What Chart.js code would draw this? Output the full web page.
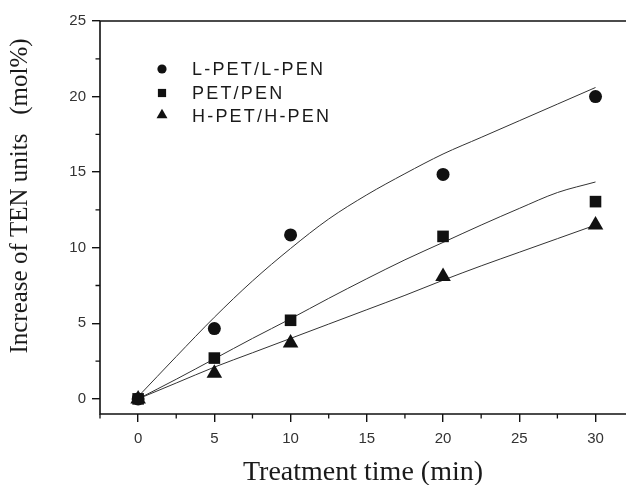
<!DOCTYPE html>
<html>
<head>
<meta charset="utf-8">
<script src="https://cdn.jsdelivr.net/npm/chart.js@4.4.0/dist/chart.umd.min.js"></script>
<style>
html, body { margin: 0; padding: 0; background: #fff; }
</style>
</head>
<body>
<canvas id="myChart" width="626" height="485"></canvas>
<script>
// measured points
var times = [0, 5, 10, 20, 30];
var lPet = [0, 4.65, 10.85, 14.85, 20.0];
var pet = [0, 2.7, 5.2, 10.75, 13.05];
var hPet = [0, 1.7, 3.7, 8.1, 11.5];

// fitted curves
var fitTimes = [0, 2.5, 5, 7.5, 10, 12.5, 15, 17.5, 20, 22.5, 25, 27.5, 30];
var lPetFit = [0.15, 2.8, 5.4, 7.8, 9.95, 11.9, 13.5, 14.9, 16.2, 17.3, 18.4, 19.5, 20.6];
var petFit = [0, 1.3, 2.65, 4.0, 5.3, 6.65, 7.95, 9.2, 10.35, 11.5, 12.6, 13.65, 14.35];
var hPetFit = [0, 1.05, 2.1, 3.05, 4.0, 4.95, 5.9, 6.85, 7.85, 8.8, 9.7, 10.6, 11.5];

var seriesNames = ['L-PET/L-PEN', 'PET/PEN', 'H-PET/H-PEN'];
var xTicks = [0, 5, 10, 15, 20, 25, 30];
var yTicks = [0, 5, 10, 15, 20, 25];

function pairs(xs, ys) {
    return xs.map(function (x, i) { return { x: x, y: ys[i] }; });
}

function fitLine(ys) {
    return {
        data: pairs(fitTimes, ys),
        showLine: true,
        borderColor: '#333',
        borderWidth: 1,
        pointRadius: 0,
        cubicInterpolationMode: 'monotone',
        fill: false,
        order: 2
    };
}

function markers(label, ys, style, r) {
    return {
        label: label,
        data: pairs(times, ys),
        showLine: false,
        pointStyle: style,
        pointRadius: r,
        pointBackgroundColor: '#111',
        pointBorderWidth: 0,
        order: 1
    };
}

// style, radius on the plot, radius in the key
var markerStyles = [['circle', 6.5, 4.6], ['rect', 8.2, 5.8], ['triangle', 9, 6.3]];

// frame, minor ticks, axis titles and the inset key
var decorations = {
    id: 'decorations',
    afterDraw: function (chart) {
        var ctx = chart.ctx;
        var a = chart.chartArea;
        var xs = chart.scales.x, ys = chart.scales.y;
        ctx.save();
        ctx.strokeStyle = '#111';
        ctx.lineWidth = 1.6;
        ctx.beginPath();
        ctx.moveTo(a.right + 2, a.top);
        ctx.lineTo(a.left, a.top);
        ctx.lineTo(a.left, a.bottom);
        ctx.lineTo(a.right + 2, a.bottom);
        ctx.stroke();

        ctx.lineWidth = 1.3;
        ctx.beginPath();
        for (var v = -2.5; v < xs.max; v += 5) {
            var px = xs.getPixelForValue(v);
            ctx.moveTo(px, a.bottom);
            ctx.lineTo(px, a.bottom + 4.5);
        }
        for (var w = 2.5; w < ys.max; w += 5) {
            var py = ys.getPixelForValue(w);
            ctx.moveTo(a.left, py);
            ctx.lineTo(a.left - 4.5, py);
        }
        ctx.stroke();

        ctx.fillStyle = '#1a1a1a';
        ctx.textAlign = 'center';
        ctx.textBaseline = 'middle';
        ctx.font = '28px "Liberation Serif"';
        ctx.fillText('Treatment time (min)', (a.left + a.right) / 2, 473);
        ctx.save();
        ctx.translate(20, 196);
        ctx.rotate(-Math.PI / 2);
        ctx.font = '25px "Liberation Serif"';
        ctx.fillText('Increase of TEN units   (mol%)', 0, 0);
        ctx.restore();

        var rows = [69, 93, 116];
        ctx.textAlign = 'left';
        ctx.font = '18px "Liberation Sans"';
        if ('letterSpacing' in ctx) ctx.letterSpacing = '2.2px';
        seriesNames.forEach(function (name, i) {
            ctx.fillStyle = '#111';
            Chart.helpers.drawPoint(ctx, {
                pointStyle: markerStyles[i][0],
                radius: markerStyles[i][2],
                rotation: 0,
                borderWidth: 0
            }, 162, rows[i] - (i === 2 ? 1 : 0));
            ctx.fillStyle = '#1a1a1a';
            ctx.fillText(name, 192, rows[i] + 1);
        });
        ctx.restore();
    }
};

var ctx = document.getElementById('myChart').getContext('2d');
var myChart = new Chart(ctx, {
    type: 'scatter',
    data: {
        datasets: [
            fitLine(lPetFit),
            fitLine(petFit),
            fitLine(hPetFit),
            markers(seriesNames[0], lPet, markerStyles[0][0], markerStyles[0][1]),
            markers(seriesNames[1], pet, markerStyles[1][0], markerStyles[1][1]),
            markers(seriesNames[2], hPet, markerStyles[2][0], markerStyles[2][1])
        ]
    },
    options: {
        responsive: false,
        animation: false,
        layout: {
            autoPadding: false,
            padding: { top: 21, right: 0, bottom: 0, left: 0 }
        },
        plugins: {
            legend: { display: false },
            tooltip: { enabled: false }
        },
        scales: {
            x: {
                type: 'linear',
                min: -2.5,
                max: 32,
                afterBuildTicks: function (scale) {
                    scale.ticks = xTicks.map(function (v) { return { value: v }; });
                },
                afterFit: function (scale) {
                    scale.height = 71;
                    scale.paddingLeft = 0;
                    scale.paddingRight = 0;
                },
                border: { display: false },
                grid: {
                    drawOnChartArea: false,
                    drawTicks: true,
                    tickLength: 8,
                    color: '#111',
                    lineWidth: 1.4
                },
                ticks: {
                    padding: 8,
                    color: '#333',
                    font: { family: 'Liberation Sans', size: 15 }
                }
            },
            y: {
                type: 'linear',
                min: -1,
                max: 25,
                afterBuildTicks: function (scale) {
                    scale.ticks = yTicks.map(function (v) { return { value: v }; });
                },
                afterFit: function (scale) { scale.width = 100; },
                border: { display: false },
                grid: {
                    drawOnChartArea: false,
                    drawTicks: true,
                    tickLength: 8,
                    color: '#111',
                    lineWidth: 1.4
                },
                ticks: {
                    padding: 6,
                    color: '#333',
                    font: { family: 'Liberation Sans', size: 15 }
                }
            }
        }
    },
    plugins: [decorations]
});
</script>
</body>
</html>
